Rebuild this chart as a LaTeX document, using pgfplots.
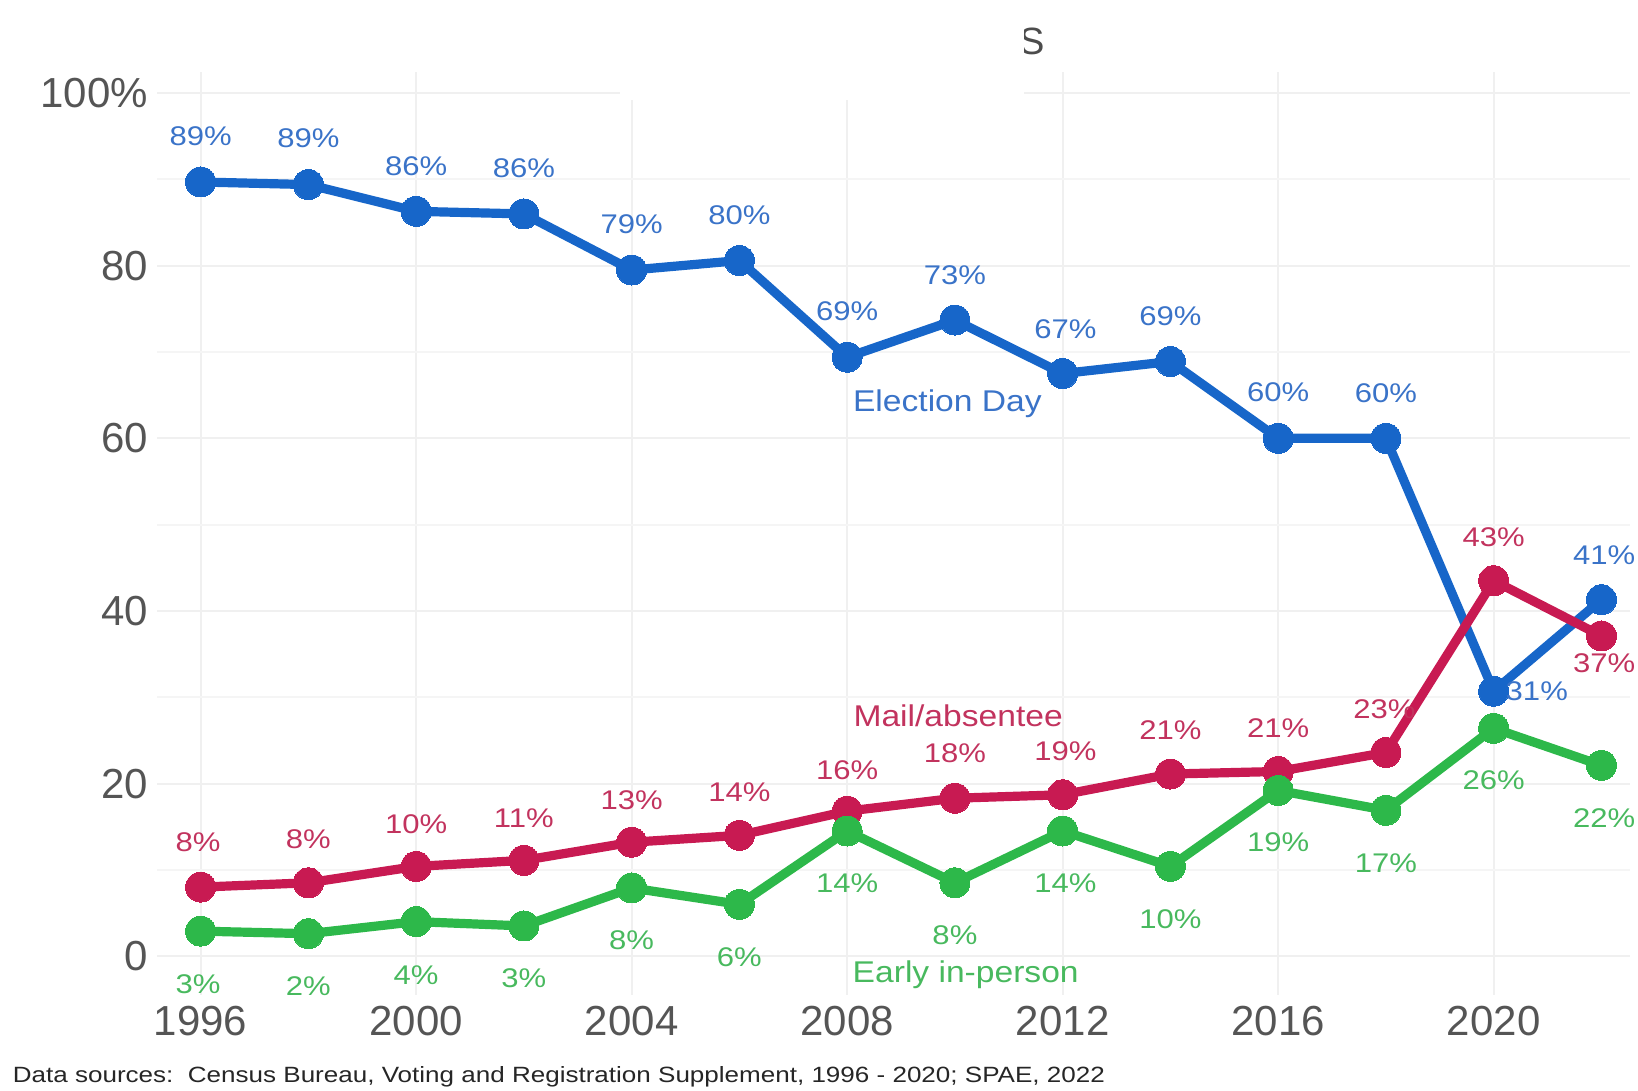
\documentclass[border=0pt]{standalone}
\usepackage{pgfplots}
\usepackage{pgfplotstable}
\usepackage{fontspec}
\setmainfont{Liberation Sans}
\pgfplotsset{compat=1.18}
\definecolor{cblue}{HTML}{1766C9}
\definecolor{cred}{HTML}{C81A52}
\definecolor{cgreen}{HTML}{2DB84A}
\definecolor{tblue}{HTML}{3A73C8}
\definecolor{tred}{HTML}{C2335E}
\definecolor{tgreen}{HTML}{48B95E}
\definecolor{tick}{HTML}{555555}

\pgfplotstableread{
x y lx ly lbl
1996 89.7 1996 95.0 89
1998 89.4 1998 94.8 89
2000 86.3 2000 91.5 86
2002 86.0 2002 91.3 86
2004 79.5 2004 84.8 79
2006 80.6 2006 85.8 80
2008 69.4 2008 74.7 69
2010 73.7 2010 78.9 73
2012 67.5 2012.05 72.6 67
2014 68.9 2014 74.2 69
2016 60.0 2016 65.4 60
2018 60.0 2018 65.2 60
2020 30.7 2020.8 30.7 31
2022 41.3 2022.05 46.5 41
}\elec

\pgfplotstableread{
x y lx ly lbl
1996 8.0 1995.95 13.2 8
1998 8.5 1998 13.6 8
2000 10.4 2000 15.3 10
2002 11.1 2002 16.0 11
2004 13.2 2004 18.1 13
2006 14.0 2006 19.0 14
2008 16.8 2008 21.6 16
2010 18.3 2010 23.5 18
2012 18.7 2012.05 23.8 19
2014 21.1 2014 26.2 21
2016 21.4 2016 26.4 21
2018 23.6 2017.97 28.6 23
2020 43.5 2020 48.5 43
2022 37.1 2022.05 33.9 37
}\mail

\pgfplotstableread{
x y lx ly lbl
1996 2.9 1995.95 -3.3 3
1998 2.6 1998 -3.5 2
2000 4.0 2000 -2.2 4
2002 3.5 2002 -2.6 3
2004 7.9 2004 1.8 8
2006 6.0 2006 -0.1 6
2008 14.5 2008 8.4 14
2010 8.5 2010 2.4 8
2012 14.5 2012.05 8.4 14
2014 10.4 2014 4.3 10
2016 19.2 2016 13.2 19
2018 16.9 2018 10.8 17
2020 26.4 2020 20.4 26
2022 22.1 2022.05 16.0 22
}\early

\begin{document}
\begin{tikzpicture}
\useasboundingbox (0,0) rectangle (819pt,545.5pt);
\begin{axis}[
  at={(78.5pt,48pt)}, anchor=south west,
  scale only axis, width=736.5pt, height=461.3pt,
  xmin=1995.19, xmax=2022.53, ymin=-4.5, ymax=102.4,
  clip=false,
  axis line style={draw=none},
  tick style={draw=none},
  xtick={1996,2000,2004,2008,2012,2016,2020},
  ytick={0,20,40,60,80,100},
  yticklabels={0,20,40,60,80,100\%},
  minor ytick={10,30,50,70,90},
  xticklabel style={/pgf/number format/1000 sep={}},
  /pgf/number format/assume math mode=true,
  ticklabel style={font=\fontsize{21}{21}\selectfont, text=tick},
  yticklabel style={xshift=-1pt},
  xticklabel style={yshift=-2pt},
  grid=both,
  major grid style={draw=black!6, line width=1pt},
  minor grid style={draw=black!4, line width=1pt},
  every axis plot/.append style={line width=4.6pt, mark=*, mark size=7.5pt},
]
\addplot[cblue, mark options={fill=cblue, draw=cblue, line width=0pt}] table[x=x,y=y]{\elec};
\addplot[cred, mark options={fill=cred, draw=cred, line width=0pt}] table[x=x,y=y]{\mail};
\addplot[cgreen, mark options={fill=cgreen, draw=cgreen, line width=0pt}] table[x=x,y=y]{\early};

\addplot[draw=none, mark=none, point meta=explicit symbolic,
  nodes near coords={\scalebox{1.15}[1]{\pgfplotspointmeta\%}},
  nodes near coords align=center,
  every node near coord/.append style={anchor=center, inner sep=0pt, text=tblue, font=\fontsize{13.5}{13.5}\selectfont}]
  table[x=lx,y=ly,meta=lbl]{\elec};
\addplot[draw=none, mark=none, point meta=explicit symbolic,
  nodes near coords={\scalebox{1.15}[1]{\pgfplotspointmeta\%}},
  nodes near coords align=center,
  every node near coord/.append style={anchor=center, inner sep=0pt, text=tred, font=\fontsize{13.5}{13.5}\selectfont}]
  table[x=lx,y=ly,meta=lbl]{\mail};
\addplot[draw=none, mark=none, point meta=explicit symbolic,
  nodes near coords={\scalebox{1.15}[1]{\pgfplotspointmeta\%}},
  nodes near coords align=center,
  every node near coord/.append style={anchor=center, inner sep=0pt, text=tgreen, font=\fontsize{13.5}{13.5}\selectfont}]
  table[x=lx,y=ly,meta=lbl]{\early};

\node[text=tblue, font=\fontsize{15}{15}\selectfont, inner sep=0pt] at (axis cs:2009.86,64.0) {\scalebox{1.12}[1]{Election Day}};
\node[text=tred, font=\fontsize{15}{15}\selectfont, inner sep=0pt] at (axis cs:2010.06,27.9) {\scalebox{1.12}[1]{Mail/absentee}};
\node[text=tgreen, font=\fontsize{15}{15}\selectfont, inner sep=0pt] at (axis cs:2010.2,-2.1) {\scalebox{1.12}[1]{Early in-person}};
\end{axis}
\node[text=black!70, font=\fontsize{19}{19}\selectfont, inner sep=0pt] at (516pt,525pt) {S};
\fill[white] (310pt,495.5pt) rectangle (512pt,537pt);
\node[anchor=base west, inner sep=0pt, text=black!85] at (6.25pt,4pt)
  {\resizebox{546pt}{8pt}{Data sources:\ \ Census Bureau, Voting and Registration Supplement, 1996 - 2020; SPAE, 2022}};
\end{tikzpicture}
\end{document}
